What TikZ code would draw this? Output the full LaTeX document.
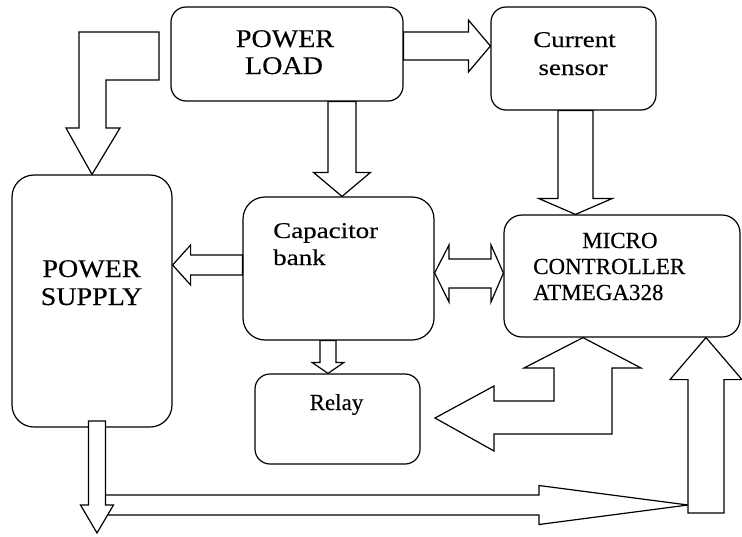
\documentclass[tikz,border=0pt]{standalone}
\usepackage{fontspec}
\setmainfont{Liberation Serif}
\newfontfamily\fwideA[FakeStretch=1.1,FakeBold=0.3]{Liberation Serif}
\newfontfamily\fwideB[FakeStretch=1.2,FakeBold=0.3]{Liberation Serif}
\newfontfamily\fnorm[FakeBold=0.3]{Liberation Serif}
\usetikzlibrary{calc}
\tikzset{
  blk/.style={draw=black, line width=1.2pt, rounded corners=#1, inner sep=0pt, fill=white},
  blk/.default=15pt,
  barr/.style={draw=black, line width=1.2pt, fill=white, line join=miter},
  lbl/.style={inner sep=0pt, anchor=base, text=black},
  lblw/.style={inner sep=0pt, anchor=base west, text=black},
  fA/.style={font=\fwideA\fontsize{25.5}{28}\selectfont},
  fB/.style={font=\fwideB\fontsize{22.5}{26}\selectfont},
  fC/.style={font=\fnorm\fontsize{23}{26}\selectfont},
}
% block arrow: start, end, shaft half width, head half width, head length
\newcommand\barrow[5]{%
  \coordinate (tmpH) at ($(#2)!#5!(#1)$);
  \draw[barr] ($(#1)!#3!90:(#2)$) -- ($(tmpH)!#3!90:(#2)$) -- ($(tmpH)!#4!90:(#2)$)
    -- (#2) -- ($(tmpH)!#4!-90:(#2)$) -- ($(tmpH)!#3!-90:(#2)$) -- ($(#1)!#3!-90:(#2)$) -- cycle;}
\begin{document}
\begin{tikzpicture}[x=1pt,y=-1pt]
\useasboundingbox[fill=white] (0,0) rectangle (742,536);
% boxes
\node[blk=15pt, minimum width=232pt, minimum height=94pt] (load) at (287,54) {};
\node[blk=15pt, minimum width=165pt, minimum height=103pt] (sensor) at (573.5,58.5) {};
\node[blk=22pt, minimum width=160pt, minimum height=252pt] (supply) at (92,301) {};
\node[blk=22pt, minimum width=191pt, minimum height=143pt] (cap) at (338.5,268.5) {};
\node[blk=18pt, minimum width=236pt, minimum height=122pt] (micro) at (622,276) {};
\node[blk=15pt, minimum width=165pt, minimum height=90pt] (relay) at (337.5,419) {};
% texts
\node[lbl, fA] (tload1) at (285,47) {POWER};
\node[lbl, fA] (tload2) at (284,74) {LOAD};
\node[lbl, fA] (tsup1) at (91.5,277) {POWER};
\node[lbl, fA] (tsup2) at (91.5,305) {SUPPLY};
\node[lbl, fB] (tsen1) at (574.5,47) {Current};
\node[lbl, fB] (tsen2) at (573,75) {sensor};
\node[lblw, fB] (tcap1) at (273,238) {Capacitor};
\node[lblw, fB] (tcap2) at (273,265) {bank};
\node[lblw, fC] (tmic1) at (582,248) {MICRO};
\node[lblw, fC] (tmic2) at (533,274) {CONTROLLER};
\node[lblw, fC] (tmic3) at (533,300) {ATMEGA328};
\node[lbl, fC] (trel) at (336.5,410) {Relay};
% connector end points
\coordinate (a2s) at (342,0 |- load.south);
\coordinate (a2e) at (342,0 |- cap.north);
\coordinate (a3s) at (load.east |- 0,46);
\coordinate (a3e) at (sensor.west |- 0,46);
\coordinate (a4s) at (575.5,0 |- sensor.south);
\coordinate (a4e) at (575.5,0 |- micro.north);
\coordinate (a5s) at (cap.west |- 0,265);
\coordinate (a5e) at (supply.east |- 0,265);
\coordinate (a7s) at (328,0 |- cap.south);
\coordinate (a7e) at (328,0 |- relay.north);
\coordinate (a9s) at (97,421);
\coordinate (a9e) at (97,533);
\coordinate (a10s) at (97,505);
\coordinate (a10e) at (688,505);
\coordinate (a11s) at (706,513);
\coordinate (a11e) at (706,0 |- micro.south);
% arrows
\draw[barr] (79,32) -- (159,32) -- (159,80) -- (106,80) -- (106,128) -- (120,128)
  -- (supply.north) -- (66,128) -- (79,128) -- cycle;
\barrow{a2s}{a2e}{14pt}{28.5pt}{24pt}
\barrow{a3s}{a3e}{14pt}{26pt}{22pt}
\barrow{a4s}{a4e}{17.5pt}{37pt}{16pt}
\barrow{a5s}{a5e}{10pt}{20pt}{18pt}
\draw[barr] (cap.east |- 0,273) -- (449,245) -- (449,259) -- (491,259) -- (491,245)
  -- (micro.west |- 0,273) -- (491,302) -- (491,288) -- (449,288) -- (449,302) -- cycle;
\barrow{a7s}{a7e}{8pt}{16pt}{11pt}
\draw[barr] (583,0 |- micro.south) -- (641,368) -- (612,368) -- (612,434) -- (494,434)
  -- (494,451) -- (435,418) -- (494,386) -- (494,401) -- (554,401) -- (554,368)
  -- (524,368) -- cycle;
\barrow{a10s}{a10e}{10pt}{19.5pt}{149pt}
\barrow{a9s}{a9e}{8.5pt}{16.5pt}{28pt}
\barrow{a11s}{a11e}{18pt}{36pt}{42pt}
\end{tikzpicture}
\end{document}
